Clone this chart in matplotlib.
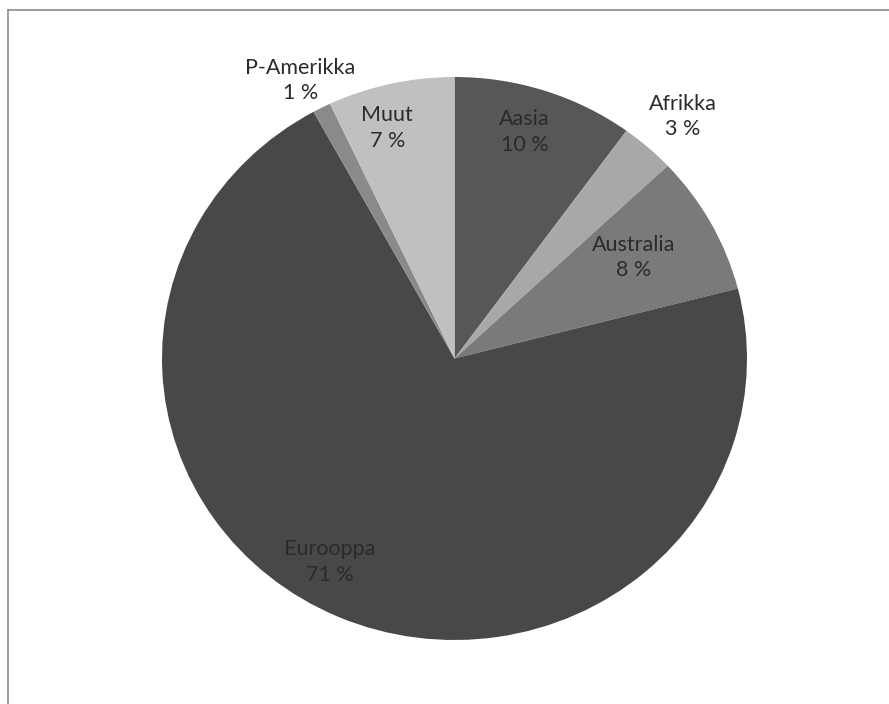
import numpy as np
import matplotlib.pyplot as plt
from matplotlib.lines import Line2D

# data
regions = ["Aasia", "Afrikka", "Australia", "Eurooppa", "P-Amerikka", "Muut"]
shares = [10, 3, 8, 71, 1, 7]
colors = ["#575757", "#a8a8a8", "#7a7a7a", "#484848", "#8a8a8a", "#c0c0c0"]

# label placement (distance from centre, angle in degrees) as in the original
label_pos = [(0.84, 73.4), (1.16, 47.8), (0.71, 30.3), (0.84, 239.4), (1.12, 118.1), (0.85, 105.7)]

plt.rcParams['font.family'] = ['Lato', 'DejaVu Sans']

fig = plt.figure(figsize=(8.89, 7.04), dpi=100)
ax = fig.add_axes([162 / 889, (704 - 640) / 704, 585 / 889, 563 / 704])

ax.pie(shares, colors=colors, startangle=90, counterclock=False, radius=1,
       wedgeprops=dict(linewidth=0))
ax.set_aspect('auto')
ax.set_xlim(-1, 1)
ax.set_ylim(-1, 1)
ax.axis('off')

for name, val, (r, ang) in zip(regions, shares, label_pos):
    a = np.deg2rad(ang)
    ax.text(r * np.cos(a), r * np.sin(a), f"{name}\n{val} %", ha='center', va='center',
            fontsize=15.5, color='#2b2b2b', linespacing=1.35, clip_on=False)

# chart border (only top and left visible)
fig.add_artist(Line2D([8 / 889, 8 / 889], [0, 1 - 9.5 / 704], transform=fig.transFigure,
                      color='#8c8c8c', linewidth=1.2))
fig.add_artist(Line2D([8 / 889, 1], [1 - 9.5 / 704, 1 - 9.5 / 704], transform=fig.transFigure,
                      color='#8c8c8c', linewidth=1.2))

fig.savefig("out.png", dpi=100)
